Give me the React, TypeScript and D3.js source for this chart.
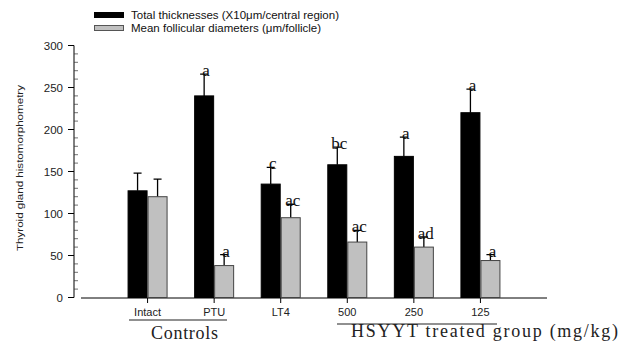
import React, { useEffect, useRef } from 'react';
import * as d3 from 'd3';

// groups on the x axis
const groups = ['Intact', 'PTU', 'LT4', '500', '250', '125'];

// Total thicknesses (X10um/central region)
const thickness = [127, 240, 135, 158, 168, 220];
const thicknessErr = [21, 26, 20, 21, 23, 28];
const thicknessSig = ['', 'a', 'c', 'bc', 'a', 'a'];

// Mean follicular diameters (um/follicle)
const diameter = [120, 38, 95, 66, 60, 44];
const diameterErr = [21, 13, 16, 14, 12, 7];
const diameterSig = ['', 'a', 'ac', 'ac', 'ad', 'a'];

const yTicks = [0, 50, 100, 150, 200, 250, 300];

const App: React.FC = () => {
  const ref = useRef<SVGSVGElement>(null);

  useEffect(() => {
    if (!ref.current) return;
    const svg = d3.select(ref.current);
    svg.selectAll('*').remove();

    const axisX = 74;
    const y = d3.scaleLinear().domain([0, 300]).range([297.5, 45.5]);
    const x = d3.scaleBand<string>()
      .domain(groups)
      .range([81, 547])
      .paddingInner(0)
      .paddingOuter(0.5);
    const barW = 20;

    const sans = 'Arial, "Liberation Sans", sans-serif';
    const serif = '"Times New Roman", "Liberation Serif", serif';

    // y axis
    const yAxis = svg.append('g').attr('transform', `translate(${axisX},0)`);
    yAxis.append('line')
      .attr('y1', y(0)).attr('y2', y(300))
      .attr('stroke', '#000').attr('stroke-width', 1);
    yAxis.selectAll('.major')
      .data(yTicks)
      .enter()
      .append('line')
      .attr('x1', -6).attr('x2', 0)
      .attr('y1', d => y(d)).attr('y2', d => y(d))
      .attr('stroke', '#000');
    yAxis.selectAll('.minor')
      .data(d3.range(10, 300, 10).filter(v => v % 50 !== 0))
      .enter()
      .append('line')
      .attr('x1', 0).attr('x2', 4)
      .attr('y1', d => y(d)).attr('y2', d => y(d))
      .attr('stroke', '#333').attr('stroke-width', 0.7);
    yAxis.selectAll('.lbl')
      .data(yTicks)
      .enter()
      .append('text')
      .attr('x', -11)
      .attr('y', d => y(d) + 4)
      .attr('text-anchor', 'end')
      .attr('font-family', sans)
      .attr('font-size', '11.5px')
      .attr('fill', '#222')
      .text(d => d);

    // y label
    svg.append('text')
      .attr('transform', `translate(23,168) rotate(-90)`)
      .attr('text-anchor', 'middle')
      .attr('font-family', sans)
      .attr('font-size', '9.5px')
      .attr('textLength', 166)
      .attr('lengthAdjust', 'spacingAndGlyphs')
      .attr('fill', '#222')
      .text('Thyroid gland histomorphometry');

    // x axis
    svg.append('line')
      .attr('x1', 81).attr('x2', 547)
      .attr('y1', 298).attr('y2', 298)
      .attr('stroke', '#000');

    const series = [
      { vals: thickness, err: thicknessErr, sig: thicknessSig, off: -barW, fill: '#000', stroke: '#000' },
      { vals: diameter, err: diameterErr, sig: diameterSig, off: 0, fill: '#c0c0c0', stroke: '#444' },
    ];

    series.forEach(s => {
      const g = svg.append('g');
      const data = groups.map((grp, i) => ({ grp, v: s.vals[i], e: s.err[i], sig: s.sig[i] }));
      const cx = (d: { grp: string }) => (x(d.grp) as number) + x.bandwidth() / 2 + s.off + barW / 2;

      // error bars (up only)
      g.selectAll('.err')
        .data(data)
        .enter()
        .append('path')
        .attr('d', d => `M${cx(d)},${y(d.v)}V${y(d.v + d.e)}M${cx(d) - 4},${y(d.v + d.e)}H${cx(d) + 4}`)
        .attr('stroke', '#000')
        .attr('stroke-width', 1.3)
        .attr('fill', 'none');

      g.selectAll('.bar')
        .data(data)
        .enter()
        .append('rect')
        .attr('x', d => cx(d) - barW / 2 + 0.5)
        .attr('y', d => y(d.v))
        .attr('width', barW - 1)
        .attr('height', d => y(0) - y(d.v))
        .attr('fill', s.fill)
        .attr('stroke', s.stroke)
        .attr('stroke-width', 1);

      g.selectAll('.sig')
        .data(data)
        .enter()
        .append('text')
        .attr('x', d => cx(d) + 2)
        .attr('y', d => y(d.v + d.e) + 2)
        .attr('text-anchor', 'middle')
        .attr('font-family', serif)
        .attr('font-size', '17px')
        .attr('fill', '#111')
        .text(d => d.sig);
    });

    // group tick marks and labels
    svg.selectAll('.xtick')
      .data(groups)
      .enter()
      .append('line')
      .attr('x1', d => (x(d) as number) + x.bandwidth() / 2)
      .attr('x2', d => (x(d) as number) + x.bandwidth() / 2)
      .attr('y1', 298).attr('y2', 303)
      .attr('stroke', '#000');

    svg.selectAll('.xlbl')
      .data(groups)
      .enter()
      .append('text')
      .attr('x', d => (x(d) as number) + x.bandwidth() / 2)
      .attr('y', 315.5)
      .attr('text-anchor', 'middle')
      .attr('font-family', sans)
      .attr('font-size', '11px')
      .attr('fill', '#222')
      .text(d => d);

    // group brackets
    svg.append('line')
      .attr('x1', 129).attr('x2', 227).attr('y1', 320).attr('y2', 320)
      .attr('stroke', '#222').attr('stroke-width', 1.2);
    svg.append('line')
      .attr('x1', 337).attr('x2', 497).attr('y1', 324).attr('y2', 324)
      .attr('stroke', '#222').attr('stroke-width', 1.2);

    svg.append('text')
      .attr('x', 151).attr('y', 339)
      .attr('font-family', serif)
      .attr('font-size', '18px')
      .attr('textLength', 67)
      .attr('lengthAdjust', 'spacing')
      .attr('fill', '#222')
      .text('Controls');
    svg.append('text')
      .attr('x', 351).attr('y', 337)
      .attr('font-family', serif)
      .attr('font-size', '18px')
      .attr('textLength', 267)
      .attr('lengthAdjust', 'spacing')
      .attr('fill', '#222')
      .text('HSYYT treated group (mg/kg)');

    // legend
    const legend = svg.append('g').attr('transform', 'translate(94,12)');
    const legendItems = [
      { label: 'Total thicknesses (X10\u03bcm/central region)', fill: '#000', stroke: '#000' },
      { label: 'Mean follicular diameters (\u03bcm/follicle)', fill: '#c0c0c0', stroke: '#555' },
    ];
    legendItems.forEach((it, i) => {
      legend.append('rect')
        .attr('x', 0.5).attr('y', i * 13 + 0.5)
        .attr('width', 29).attr('height', 5)
        .attr('fill', it.fill).attr('stroke', it.stroke);
      legend.append('text')
        .attr('x', 37).attr('y', i * 13 + 7)
        .attr('font-family', sans)
        .attr('font-size', '11.5px')
        .attr('fill', '#111')
        .text(it.label);
    });
  }, []);

  return (
    <svg
      ref={ref}
      width={623}
      height={346}
      style={{ position: 'absolute', left: 0, top: 0, background: '#fff' }}
    />
  );
};

export default App;
